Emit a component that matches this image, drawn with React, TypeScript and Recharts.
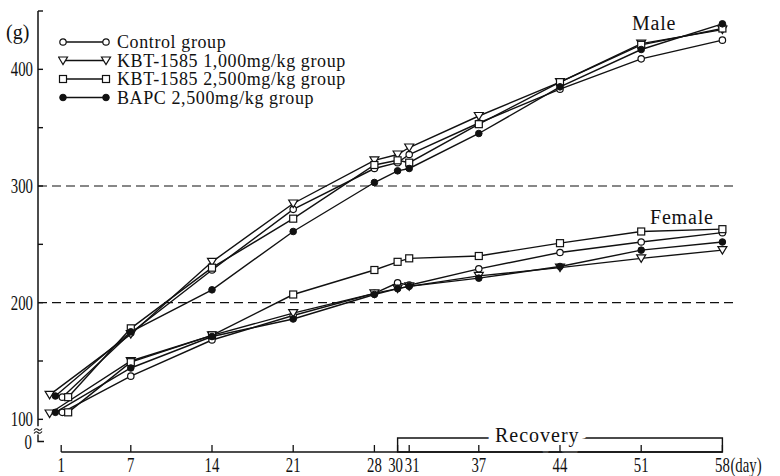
import { LineChart, Line, XAxis, YAxis, ReferenceLine, ReferenceArea, Legend } from "recharts";

const days = [1, 7, 14, 21, 28, 30, 31, 37, 44, 51, 58];
const weightTicks = [81, 100, 150, 200, 250, 300, 350, 400, 450];
const weightLabels: Record<number, string> = { 81: "0", 100: "100", 200: "200", 300: "300", 400: "400" };

// day-1 points are staggered in the original so the markers don't overlap
const controlStartDay = 1.1;
const kbt1000StartDay = 0;
const kbt2500StartDay = 1.6;
const bapcStartDay = 0.5;

const controlMale = [119, 174, 228, 280, 315, 320, 327, 354, 383, 409, 425];
const kbt1000Male = [121, 173, 235, 285, 322, 327, 333, 360, 389, 422, 434];
const kbt2500Male = [119, 178, 230, 272, 318, 322, 320, 353, 389, 421, 435];
const bapcMale = [120, 175, 211, 261, 303, 313, 315, 345, 385, 417, 439];

const controlFemale = [106, 137, 168, 189, 208, 217, 215, 229, 243, 252, 260];
const kbt1000Female = [105, 150, 172, 191, 208, 212, 214, 223, 230, 238, 245];
const kbt2500Female = [106, 149, 172, 207, 228, 235, 238, 240, 251, 261, 263];
const bapcFemale = [106, 144, 171, 186, 207, 212, 214, 221, 231, 245, 252];

const FONT = "'Liberation Serif', 'DejaVu Serif', serif";
const INK = "#111";

type Shape = "circle" | "triangle" | "square" | "dot";

const toSeries = (values: number[], startDay: number) =>
  values.map((w, i) => ({ day: i === 0 ? startDay : days[i], weight: w }));

const groups = [
  { name: "Control group", shape: "circle" as Shape, male: toSeries(controlMale, controlStartDay), female: toSeries(controlFemale, controlStartDay) },
  { name: "KBT-1585 1,000mg/kg group", shape: "triangle" as Shape, male: toSeries(kbt1000Male, kbt1000StartDay), female: toSeries(kbt1000Female, kbt1000StartDay) },
  { name: "KBT-1585 2,500mg/kg group", shape: "square" as Shape, male: toSeries(kbt2500Male, kbt2500StartDay), female: toSeries(kbt2500Female, kbt2500StartDay) },
  { name: "BAPC 2,500mg/kg group", shape: "dot" as Shape, male: toSeries(bapcMale, bapcStartDay), female: toSeries(bapcFemale, bapcStartDay) },
];

const Marker = ({ cx, cy, shape }: { cx: number; cy: number; shape: Shape }) => {
  if (cx == null || cy == null) return null;
  if (shape === "triangle")
    return <polygon points={`${cx - 4.5},${cy - 3.5} ${cx + 4.5},${cy - 3.5} ${cx},${cy + 4}`} fill="#fff" stroke={INK} strokeWidth={1.2} />;
  if (shape === "square")
    return <rect x={cx - 3.5} y={cy - 3.5} width={7} height={7} fill="#fff" stroke={INK} strokeWidth={1.2} />;
  if (shape === "dot") return <circle cx={cx} cy={cy} r={3.3} fill={INK} stroke={INK} />;
  return <circle cx={cx} cy={cy} r={3.2} fill="#fff" stroke={INK} strokeWidth={1.2} />;
};

// the original numerals are a tall, narrow serif
const Narrow = ({ x, y, anchor, children }: { x: number; y: number; anchor: "start" | "middle" | "end"; children: any }) => (
  <text transform={`translate(${x},${y}) scale(0.74,1)`} textAnchor={anchor} fontFamily={FONT} fontSize={20} fill={INK}>
    {children}
  </text>
);

// 30 and 31 sit close together, the original nudges them apart
const labelNudge: Record<number, number> = { 30: -2, 31: 3 };

const DayTick = (props: any) => {
  const { x, y, payload } = props;
  const dx = labelNudge[payload.value] || 0;
  return (
    <g>
      <line x1={x} y1={y} x2={x} y2={y - 7} stroke={INK} strokeWidth={1.3} />
      <Narrow x={x + dx} y={y + 20} anchor="middle">
        {payload.value}
      </Narrow>
      {payload.value === 58 && (
        <Narrow x={x + 8} y={y + 20} anchor="start">
          (day)
        </Narrow>
      )}
    </g>
  );
};

const WeightTick = (props: any) => {
  const { x, y, payload } = props;
  const label = weightLabels[payload.value];
  if (payload.value === 81) {
    return (
      <g>
        <path d={`M${x} ${y - 7} L${x} ${y} L${x + 6} ${y}`} fill="none" stroke={INK} strokeWidth={1.4} />
        <path d={`M${x - 4} ${y - 11} q2 -3 4 -1 t4 -1 M${x - 4} ${y - 8} q2 -3 4 -1 t4 -1`} fill="none" stroke={INK} strokeWidth={1.1} />
        <Narrow x={x - 6} y={y + 7} anchor="end">
          {label}
        </Narrow>
      </g>
    );
  }
  return (
    <g>
      <line x1={x} y1={y} x2={x + 5} y2={y} stroke={INK} strokeWidth={1.4} />
      {label && (
        <Narrow x={x - 5} y={y + 7} anchor="end">
          {label}
        </Narrow>
      )}
    </g>
  );
};

const LegendBox = () => (
  <svg width={320} height={80}>
    {groups.map((g, i) => {
      const cy = 9 + i * 18.5;
      return (
        <g key={g.name}>
          <line x1={5} y1={cy} x2={48} y2={cy} stroke={INK} strokeWidth={1.4} />
          <Marker cx={5} cy={cy} shape={g.shape} />
          <Marker cx={48} cy={cy} shape={g.shape} />
          <text x={59} y={cy + 6} fontFamily={FONT} fontSize={18} letterSpacing={0.6} fill={INK}>
            {g.name}
          </text>
        </g>
      );
    })}
  </svg>
);

const RecoveryLabel = (props: any) => {
  const { viewBox } = props;
  if (!viewBox) return null;
  return (
    <text
      x={viewBox.x + viewBox.width * 0.43}
      y={viewBox.y - 3}
      dy="0.35em"
      textAnchor="middle"
      fontFamily={FONT}
      fontSize={20}
      letterSpacing={1}
      fill={INK}
      stroke="#fff"
      strokeWidth={14}
      paintOrder="stroke"
    >
      Recovery
    </text>
  );
};

export default function App() {
  return (
    <div style={{ position: "absolute", left: 0, top: 0 }}>
      <LineChart width={780} height={476} margin={{ top: 11, right: 46, bottom: 0, left: 0 }}>
        <XAxis
          type="number"
          dataKey="day"
          domain={[-1, 59]}
          ticks={days}
          interval={0}
          height={24}
          axisLine={false}
          tickLine={false}
          tickSize={0}
          tickMargin={0}
          tick={<DayTick />}
          allowDataOverflow
        />
        <YAxis
          type="number"
          domain={[72, 450]}
          ticks={weightTicks}
          interval={0}
          width={38}
          axisLine={false}
          tickLine={false}
          tickSize={0}
          tickMargin={0}
          tick={<WeightTick />}
          allowDataOverflow
        />
        <ReferenceLine y={200} stroke={INK} strokeWidth={1.2} strokeDasharray="9 5" />
        <ReferenceLine y={300} stroke={INK} strokeWidth={1.2} strokeDasharray="9 5" />
        <ReferenceLine segment={[{ x: -1, y: 450 }, { x: -1, y: 94 }]} stroke={INK} strokeWidth={1.5} />
        <ReferenceLine segment={[{ x: 1, y: 72 }, { x: 58, y: 72 }]} stroke={INK} strokeWidth={1.5} />
        <ReferenceArea x1={30} x2={58} y1={72} y2={84} fill="none" stroke={INK} strokeWidth={1.4} fillOpacity={0} label={<RecoveryLabel />} />
        <Legend
          layout="horizontal"
          verticalAlign="middle"
          align="center"
          wrapperStyle={{ top: 33, left: 58, width: 320, height: 80 }}
          content={<LegendBox />}
        />
        {groups.map((g) => (
          <Line
            key={`${g.name}-male`}
            data={g.male}
            dataKey="weight"
            name={g.name}
            stroke={INK}
            strokeWidth={1.4}
            isAnimationActive={false}
            dot={(p: any) => <Marker key={`m-${g.shape}-${p.index}`} cx={p.cx} cy={p.cy} shape={g.shape} />}
            activeDot={false}
          />
        ))}
        {groups.map((g) => (
          <Line
            key={`${g.name}-female`}
            data={g.female}
            dataKey="weight"
            name={`${g.name} (female)`}
            legendType="none"
            stroke={INK}
            strokeWidth={1.4}
            isAnimationActive={false}
            dot={(p: any) => <Marker key={`f-${g.shape}-${p.index}`} cx={p.cx} cy={p.cy} shape={g.shape} />}
            activeDot={false}
          />
        ))}
        <text x={6} y={39} fontFamily={FONT} fontSize={20} fill={INK}>
          (g)
        </text>
        <text x={632} y={30} fontFamily={FONT} fontSize={20} letterSpacing={0.8} fill={INK}>
          Male
        </text>
        <text x={650} y={224} fontFamily={FONT} fontSize={20} letterSpacing={0.8} fill={INK}>
          Female
        </text>
      </LineChart>
    </div>
  );
}
